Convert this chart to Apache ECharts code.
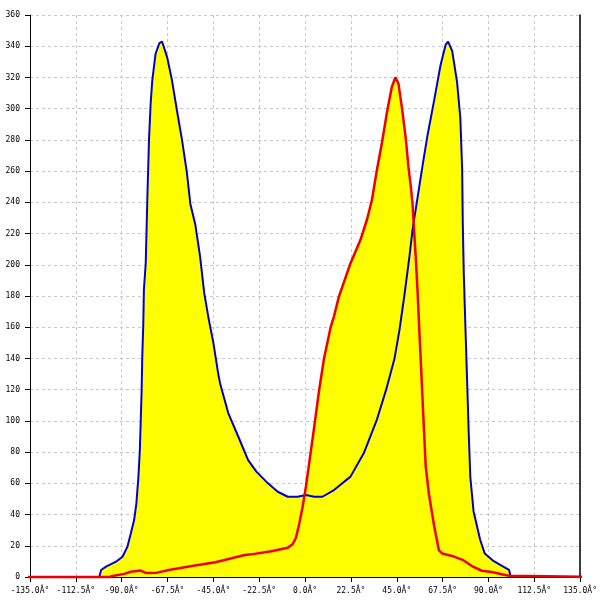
<!DOCTYPE html>
<html><head><meta charset="utf-8">
<script src="https://cdn.jsdelivr.net/npm/echarts@6/dist/echarts.min.js"></script>
<style>html,body{margin:0;padding:0;background:#fff}#c{width:600px;height:600px}</style>
</head><body><div id="c"></div>
<script>
const xTicks = [-135, -112.5, -90, -67.5, -45, -22.5, 0, 22.5, 45, 67.5, 90, 112.5, 135];
const yTicks = [0, 20, 40, 60, 80, 100, 120, 140, 160, 180, 200, 220, 240, 260, 280, 300, 320, 340, 360];
const blueSeries = [[-101,0],[-100.1,4.5],[-97.7,6.6],[-92.8,9.8],[-89.6,13],[-87.2,19.4],[-85.5,28],[-83.9,36.5],[-82.8,47],[-81.8,64],[-81.1,81],[-80.7,98],[-80.2,120],[-79.9,141],[-79.4,162],[-79.1,184],[-78.2,201],[-77.4,243],[-76.6,280],[-75.8,303],[-75.0,318],[-73.4,335],[-71.5,342],[-70.2,343],[-67.7,333],[-65.3,318],[-62.9,299],[-60.4,280],[-58.0,259],[-56.3,239],[-53.9,226],[-51.5,205],[-49.5,182],[-47.4,166],[-45.0,150],[-42.6,130],[-41.7,124],[-37.7,105],[-32.8,90],[-28.0,75],[-23.9,67.5],[-18.2,60],[-13.4,54.6],[-8.5,51.4],[-3.7,51.4],[0.4,52.5],[4.5,51.4],[8.5,51.4],[14.2,55.7],[22.3,64.3],[28.8,79.2],[35.3,101],[39.8,120],[43.9,140],[46.3,158],[48.7,180],[51.2,205],[52.8,223],[55.2,243],[57.6,263],[60.1,283],[63.3,305],[66.5,328],[69.0,341],[70.2,343],[72.2,337],[74.6,317],[76.2,294],[77.1,261],[77.4,227],[77.9,194],[78.7,160],[79.5,127],[80.3,93],[81.1,64],[82.7,42],[85.9,24],[88.2,15],[92.2,10.5],[97.5,6.5],[100.1,4.5],[101,0]];
const redSeries = [[-150,0],[-96,0],[-94.5,0.6],[-88.8,2],[-85.5,3.4],[-80.7,4.1],[-78.2,2.6],[-72.6,2.8],[-66.9,4.5],[-55.6,7],[-44,9.5],[-36.1,12],[-29.6,14.1],[-26.4,14.5],[-16.6,16.5],[-8.5,18.7],[-6.1,21],[-4.5,25],[-2.8,34.4],[-1.2,45],[0.4,57.8],[2.0,72.8],[4.5,96.3],[6.9,119.8],[9.3,140],[12.6,160.3],[14.2,167],[16.6,179.6],[22.3,201],[27.2,216],[30.4,229],[32.8,241.5],[35.3,261],[37.7,278],[40.1,297],[42.6,314],[44.3,320],[45.8,316.3],[47.6,300],[49.5,280],[50.7,263],[51.9,250],[52.8,238],[53.6,220],[54.4,203],[55.2,183],[56.0,160],[56.8,138],[57.6,115],[58.4,93],[59.2,71],[60.8,53],[63.3,33],[65.7,17],[67.3,15],[72.2,13.5],[77.3,11],[81.9,7],[86.8,4],[91.6,3.2],[96.5,1.8],[100.1,0.8],[101,0],[150,0]];

const font = {fontFamily: 'DejaVu Sans Mono', fontSize: 8, color: '#000'};
const chart = echarts.init(document.getElementById('c'), null, {renderer: 'canvas'});
chart.setOption({
  animation: false,
  grid: {left: 30, right: 15, top: 15, bottom: 23, containLabel: false},
  xAxis: {
    type: 'value', min: xTicks[0], max: xTicks[xTicks.length-1], interval: 22.5,
    axisLine: {show: true, onZero: false, lineStyle: {color: '#000', width: 1}},
    axisTick: {show: true, length: 5, lineStyle: {color: '#000'}},
    axisLabel: Object.assign({margin: 10, showMinLabel: true, showMaxLabel: true,
      formatter: v => v.toFixed(1) + 'Â°'}, font),
    splitLine: {show: true, lineStyle: {color: '#c8c8c8', type: [3, 3]}}
  },
  yAxis: [{
    type: 'value', min: yTicks[0], max: yTicks[yTicks.length-1], interval: 20, position: 'left',
    axisLine: {show: true, onZero: false, lineStyle: {color: '#000', width: 1}},
    axisTick: {show: true, length: 5, lineStyle: {color: '#000'}},
    axisLabel: Object.assign({margin: 10}, font),
    splitLine: {show: true, lineStyle: {color: '#c8c8c8', type: [3, 3]}}
  }, {
    type: 'value', min: 0, max: 360, position: 'right',
    axisLine: {show: true, onZero: false, lineStyle: {color: '#000', width: 1.5}},
    axisTick: {show: false}, axisLabel: {show: false}, splitLine: {show: false}
  }],
  series: [
    {type: 'line', data: blueSeries, symbol: 'none', z: 1, lineStyle: {width: 0},
     areaStyle: {color: '#ffff00', opacity: 1, origin: 'start'}},
    {type: 'line', data: redSeries, symbol: 'none', z: 1, clip: false, lineStyle: {width: 0},
     areaStyle: {color: '#ffff00', opacity: 1, origin: 'start'}},
    {type: 'line', data: blueSeries, symbol: 'none', z: 3, lineStyle: {color: '#0000d0', width: 2}},
    {type: 'line', data: redSeries, symbol: 'none', z: 4, clip: false, lineStyle: {color: '#ee0000', width: 2.5}}
  ]
});
</script></body></html>
